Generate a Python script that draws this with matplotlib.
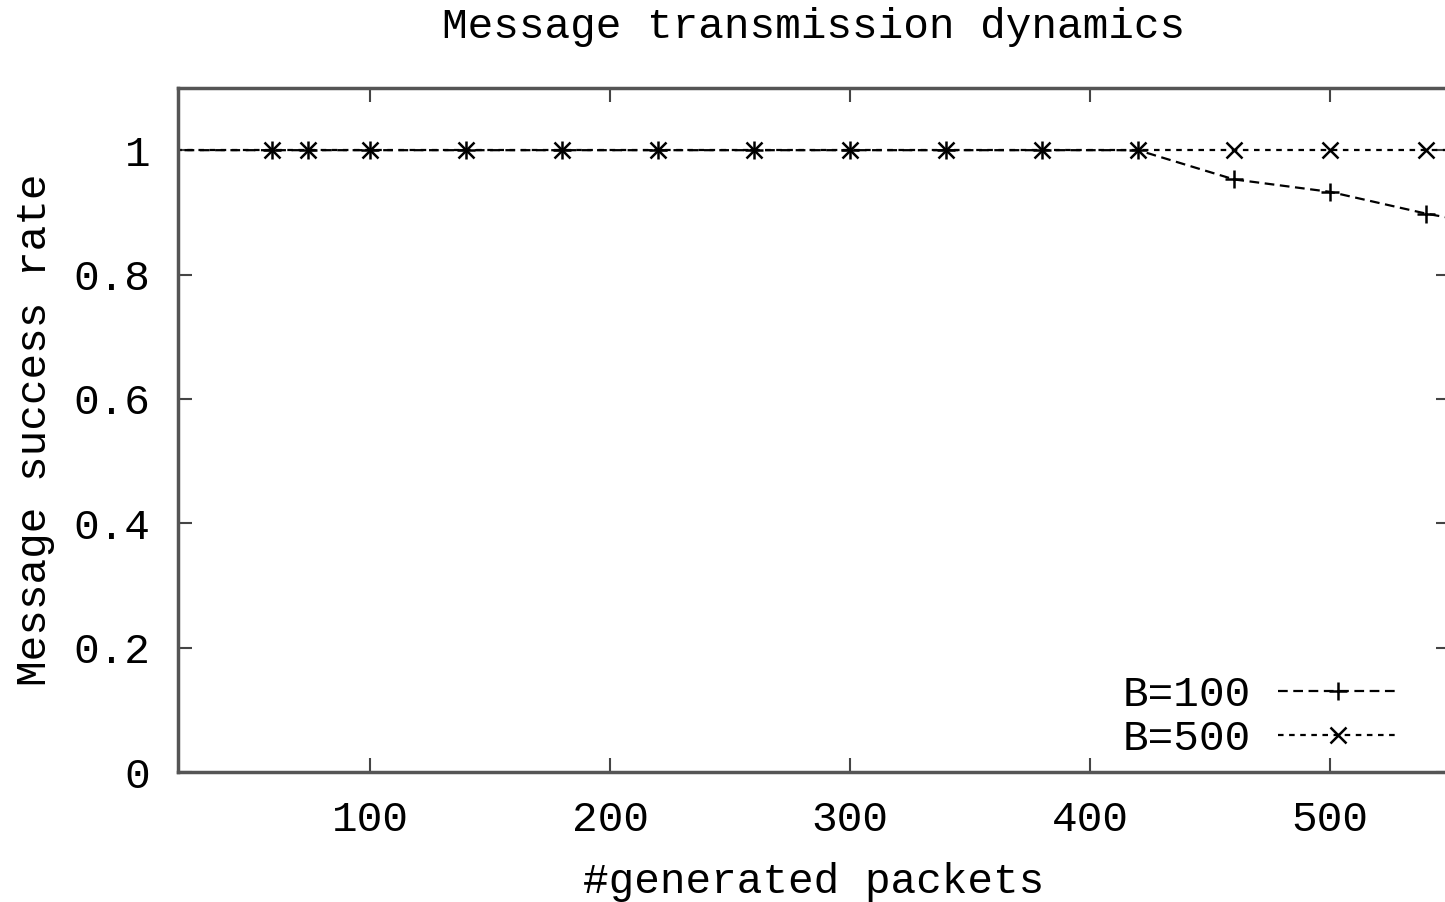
import matplotlib
matplotlib.use("Agg")
import matplotlib.pyplot as plt

plt.rcParams['font.family'] = ['Liberation Mono', 'DejaVu Sans Mono']
plt.rcParams['lines.scale_dashes'] = False

title = "Message transmission dynamics"
xlabel = "#generated packets"
ylabel = "Message success rate"

packets = [10, 59, 74, 100, 140, 180, 220, 260, 300, 340, 380, 420, 460, 500, 540, 580]
rate_b100 = [1, 1, 1, 1, 1, 1, 1, 1, 1, 1, 1, 1, 0.953, 0.933, 0.898, 0.87]
rate_b500 = [1, 1, 1, 1, 1, 1, 1, 1, 1, 1, 1, 1, 1, 1, 1, 1]
labels = ["B=100", "B=500"]
xticks = [100, 200, 300, 400, 500]
yticks = [0, 0.2, 0.4, 0.6, 0.8, 1]
ytick_labels = ["0", "0.2", "0.4", "0.6", "0.8", "1"]

W, H = 1445, 902
fig = plt.figure(figsize=(W / 100, H / 100), dpi=100)
left, right, top, bottom = 178, 1450, 88, 772
ax = fig.add_axes([left / W, 1 - bottom / H, (right - left) / W, (bottom - top) / H])

fs = 30.8
ax.plot(packets, rate_b100, color='black', lw=1.6, dashes=(7, 4),
        marker='+', ms=13, mew=1.8, label=labels[0])
ax.plot(packets, rate_b500, color='black', lw=1.6, dashes=(4, 4),
        marker='x', ms=11.5, mew=1.8, label=labels[1])

ax.set_xlim(20, 20 + (right - left) / 2.4)
ax.set_ylim(0, 1.1)
ax.set_xticks(xticks)
ax.set_yticks(yticks)
ax.set_yticklabels(ytick_labels)
ax.tick_params(direction='in', length=10, width=1.5, color='#444444',
               top=True, right=True, labelsize=fs)
ax.tick_params(axis='x', pad=20)
ax.tick_params(axis='y', pad=20)
for s in ax.spines.values():
    s.set_color('#555555')
    s.set_linewidth(2.5)

ax.set_title(title, fontsize=fs, pad=36)
ax.set_xlabel(xlabel, fontsize=fs, labelpad=16)
ax.set_ylabel(ylabel, fontsize=fs, labelpad=13)

leg = ax.legend(loc='lower right', bbox_to_anchor=(0.9795, -0.019),
                frameon=False, markerfirst=False, fontsize=fs,
                handlelength=2.8, handletextpad=0.65, labelspacing=0.1,
                borderaxespad=0.2)

fig.savefig("out.png", dpi=100)
